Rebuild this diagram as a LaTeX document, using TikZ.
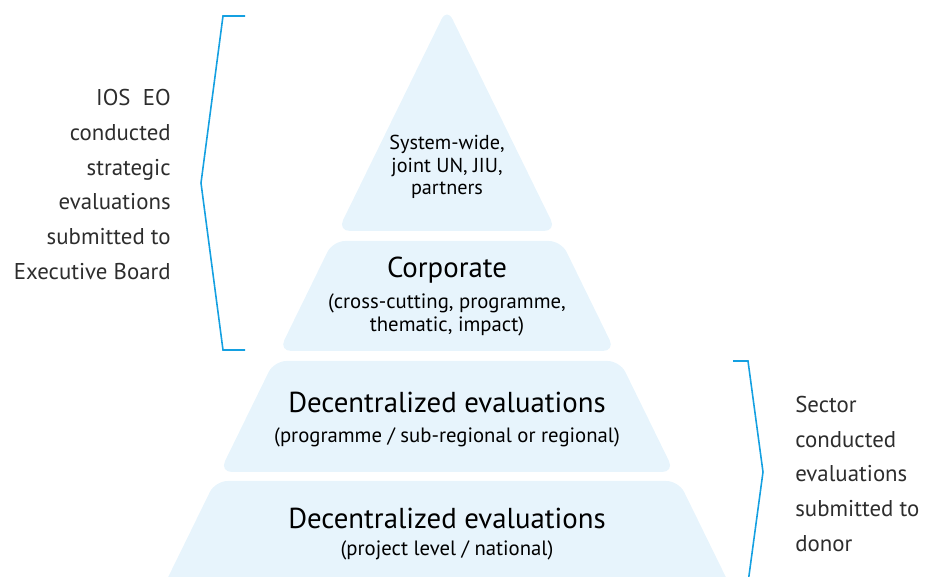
\documentclass[tikz,border=0pt]{standalone}
\usepackage{fontspec}
\setmainfont{PT Sans}

\begin{document}
\begin{tikzpicture}[
	band/.style={fill=bandfill, rounded corners=7pt},
	brace/.style={draw=bracketblue, line width=0.9pt},
	title/.style={font=\fontsize{16.4}{19}\selectfont, inner sep=0pt},
	subtitle/.style={font=\fontsize{11.8}{13}\selectfont, align=center, inner sep=0pt},
	side/.style={font=\fontsize{13}{19.7}\selectfont, text=sidetext, inner sep=0pt}]
	% Define colors
	\definecolor{bandfill}{RGB}{231,244,252}   % pale blue
	\definecolor{bracketblue}{RGB}{20,160,225} % bracket blue
	\definecolor{sidetext}{RGB}{45,45,45}      % dark grey

	% Frame
	\useasboundingbox (0,0) rectangle (18.52,11.54);
	\clip (0,0) rectangle (18.52,11.54);

	% Pyramid layers
	\fill[band] (8.94,6.92) -- (11.126,6.92) -- (8.94,11.38) -- (6.754,6.92) -- cycle;
	\fill[band] (8.94,4.52) -- (12.301,4.52) -- (11.224,6.72) -- (6.656,6.72) -- (5.579,4.52) -- cycle;
	\fill[band] (8.94,2.10) -- (13.487,2.10) -- (12.399,4.32) -- (5.481,4.32) -- (4.393,2.10) -- cycle;
	\fill[band] (8.94,-0.40) -- (14.712,-0.40) -- (13.575,1.92) -- (4.305,1.92) -- (3.168,-0.40) -- cycle;

	% Layer labels
	\node[subtitle, font=\fontsize{11.5}{12.9}\selectfont] (syswide) at (8.94,8.20) {System-wide,\\joint UN, JIU,\\partners};
	\node[title] (corporate) at (8.94,6.14) {Corporate};
	\node[subtitle] (corpsub) at (8.94,5.25) {(cross-cutting, programme,\\thematic, impact)};
	\node[title] (regional) at (8.94,3.50) {Decentralized evaluations};
	\node[subtitle] (regsub) at (8.94,2.80) {(programme / sub-regional or regional)};
	\node[title] (national) at (8.94,1.18) {Decentralized evaluations};
	\node[subtitle] (natsub) at (8.94,0.54) {(project level / national)};

	% Brackets
	\draw[brace] (4.90,11.22) -- (4.46,11.22) -- (4.02,7.88) -- (4.46,4.54) -- (4.90,4.54);
	\draw[brace] (14.66,4.32) -- (14.96,4.32) -- (15.26,2.10) -- (14.96,-0.12);

	% Side notes
	\node[side, align=right, anchor=east] (ioseo) at (3.42,7.85) {IOS\ \ EO\\conducted\\strategic\\evaluations\\submitted to\\Executive Board};
	\node[side, align=left, anchor=west] (sector) at (15.90,2.06) {Sector\\conducted\\evaluations\\submitted to\\donor};
\end{tikzpicture}
\end{document}
